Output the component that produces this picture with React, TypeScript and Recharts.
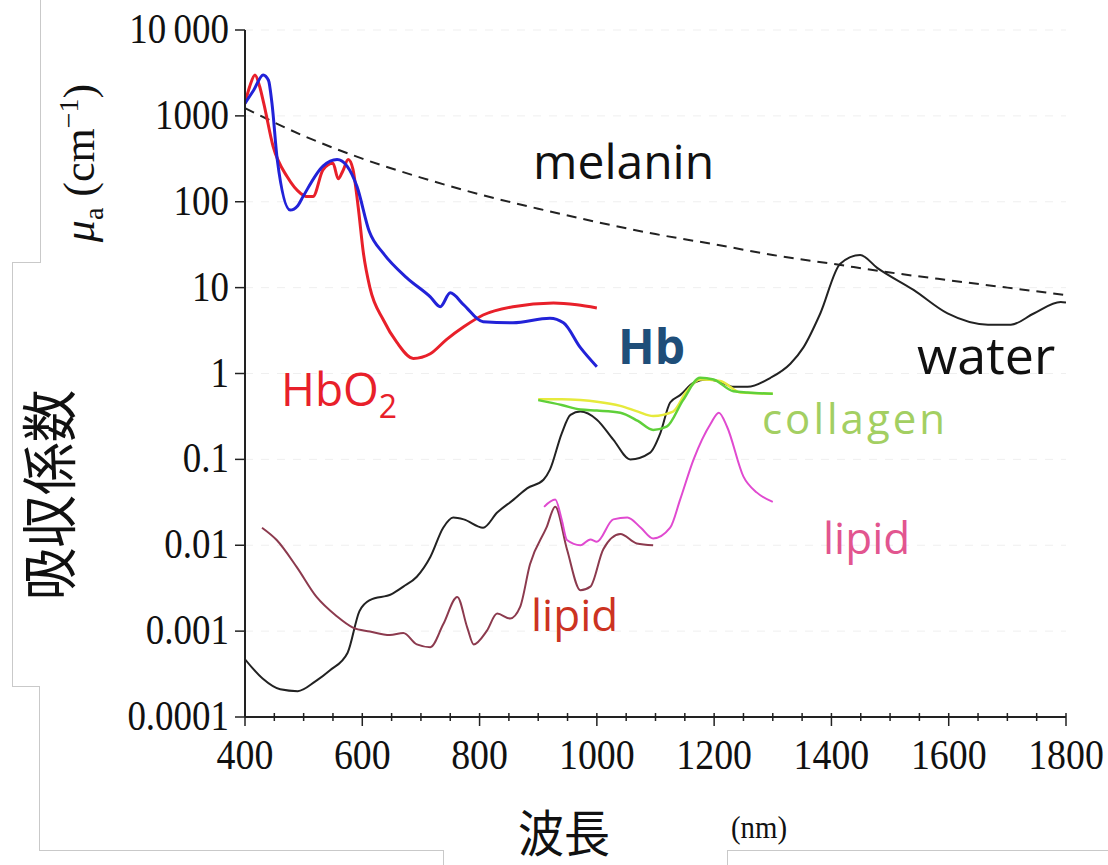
import React from "react"
import { LineChart, Line, XAxis, YAxis, CartesianGrid } from "recharts"

// wavelength (nm) / absorption coefficient (cm^-1)
const waterNm = [400, 430, 460, 490, 520, 545, 575, 595, 613, 650, 670, 693, 716, 738, 755, 773, 806, 830, 858, 881, 909, 920, 940, 955, 972, 1000, 1028, 1057, 1091, 1108, 1125, 1142, 1165, 1188, 1210, 1233, 1257, 1296, 1330, 1352, 1381, 1415, 1449, 1478, 1540, 1598, 1667, 1706, 1745, 1791, 1800]
const waterMu = [0.00047, 0.00028, 0.00021, 0.0002, 0.00026, 0.00035, 0.00056, 0.0017, 0.0023, 0.0027, 0.0033, 0.0043, 0.0073, 0.016, 0.021, 0.02, 0.016, 0.024, 0.034, 0.046, 0.058, 0.076, 0.2, 0.33, 0.36, 0.29, 0.17, 0.1, 0.12, 0.2, 0.46, 0.56, 0.78, 0.85, 0.8, 0.7, 0.7, 0.89, 1.3, 2.0, 5, 19, 24, 17, 9.4, 5, 3.7, 3.7, 5, 6.8, 6.7]

const melaninNm = [400, 500, 600, 700, 800, 900, 1000, 1100, 1200, 1300, 1400, 1500, 1600, 1700, 1800]
const melaninMu = [1230, 586, 318, 191, 122, 83, 58, 42, 32, 24, 19, 15, 12.2, 10, 8.2]

const hbo2Nm = [400, 408, 417, 425, 432, 448, 472, 495, 506, 516, 533, 550, 559, 567, 576, 584, 593, 602, 613, 636, 659, 687, 716, 744, 773, 806, 857, 926, 966, 1000]
const hbo2Mu = [1400, 2200, 3000, 2200, 1400, 440, 195, 125, 115, 115, 235, 280, 185, 230, 310, 240, 87, 25, 10, 4.2, 2.3, 1.5, 1.7, 2.5, 3.5, 4.8, 6.0, 6.6, 6.3, 5.8]

const hbNm = [400, 415, 431, 440, 446, 455, 477, 490, 499, 533, 557, 574, 591, 612, 636, 676, 716, 733, 750, 773, 806, 857, 920, 943, 972, 1000]
const hbMu = [1400, 2000, 3000, 2600, 1400, 310, 80, 90, 115, 260, 310, 260, 150, 45, 25, 13, 7.8, 6.0, 8.7, 6.3, 4.0, 3.9, 4.4, 3.9, 2.0, 1.2]

const collagenGreenNm = [900, 940, 972, 1000, 1040, 1070, 1096, 1119, 1147, 1176, 1199, 1233, 1257, 1300]
const collagenGreenMu = [0.49, 0.43, 0.38, 0.37, 0.35, 0.28, 0.22, 0.24, 0.49, 0.89, 0.85, 0.62, 0.6, 0.58]
const collagenYellowNm = [900, 940, 972, 1000, 1040, 1070, 1096, 1130, 1153, 1176, 1210, 1245, 1300]
const collagenYellowMu = [0.5, 0.5, 0.49, 0.47, 0.42, 0.36, 0.32, 0.36, 0.62, 0.85, 0.82, 0.6, 0.58]

const lipidPinkNm = [910, 929, 940, 949, 972, 989, 1000, 1028, 1052, 1075, 1096, 1125, 1142, 1165, 1194, 1208, 1222, 1250, 1273, 1300]
const lipidPinkMu = [0.028, 0.034, 0.02, 0.0115, 0.01, 0.0117, 0.011, 0.02, 0.021, 0.016, 0.012, 0.016, 0.034, 0.1, 0.26, 0.35, 0.24, 0.063, 0.041, 0.032]

const lipidDarkNm = [429, 454, 488, 522, 556, 584, 613, 647, 670, 693, 716, 738, 762, 779, 790, 812, 830, 852, 869, 886, 914, 929, 949, 972, 989, 1011, 1040, 1068, 1096]
const lipidDarkMu = [0.016, 0.0115, 0.0056, 0.0025, 0.0015, 0.0011, 0.00099, 0.0009, 0.00095, 0.0007, 0.00065, 0.0012, 0.0025, 0.0011, 0.0007, 0.001, 0.0016, 0.0014, 0.0019, 0.006, 0.016, 0.028, 0.009, 0.003, 0.0033, 0.009, 0.0135, 0.0105, 0.01]

const xMajorTicks = [400, 600, 800, 1000, 1200, 1400, 1600, 1800]
const yTicks = [0.0001, 0.001, 0.01, 0.1, 1, 10, 100, 1000, 10000]

const toPoints = (nm: number[], mu: number[]) => nm.map((x, i) => ({ x, y: mu[i] }))

// minor ticks every 50 nm between the labelled ones
const xTicks: number[] = []
for (let v = 400; v <= 1800; v += 50) xTicks.push(v)

const serif = '"Liberation Serif", "Times New Roman", serif'
const sans = '"Open Sans", "Noto Sans", sans-serif'

const XTick = (props: any) => {
    const { x, y, payload } = props
    const major = xMajorTicks.includes(payload.value)
    return (
        <g>
            <line x1={x} x2={x} y1={y - 4} y2={y + (major ? 9 : 4)} stroke="#222" strokeWidth={1.5} />
            {major && (
                <text transform={`translate(${x},${y + 52}) scale(0.88,1)`} textAnchor="middle" fontFamily={serif} fontSize={43} fill="#111">
                    {payload.value}
                </text>
            )}
        </g>
    )
}

const YTick = (props: any) => {
    const { x, y, payload } = props
    const v = payload.value
    return (
        <text transform={`translate(${x},${y + 13}) scale(0.88,1)`} textAnchor="end" fontFamily={serif} fontSize={42} fill="#111">
            {v === 10000 ? "10\u2009000" : String(v)}
        </text>
    )
}

const label = (style: React.CSSProperties, children: React.ReactNode) => (
    <div style={{ position: "absolute", whiteSpace: "nowrap", lineHeight: 1, ...style }}>{children}</div>
)

const frame = (left: number, top: number, width: number, height: number) => (
    <div style={{ position: "absolute", left, top, width, height, background: "#c9c9c9" }} />
)

export default function App() {
    return (
        <div style={{ position: "absolute", left: 0, top: 0, width: 1108, height: 865, background: "#fff", overflow: "hidden" }}>
            {frame(40, 0, 1, 262)}
            {frame(12, 262, 29, 1)}
            {frame(12, 262, 1, 425)}
            {frame(12, 686, 28, 1)}
            {frame(39, 686, 1, 165)}
            {frame(39, 850, 405, 1)}
            {frame(443, 850, 1, 15)}
            {frame(727, 850, 381, 1)}
            {frame(727, 850, 1, 15)}

            <LineChart
                width={1108}
                height={865}
                margin={{ top: 30, right: 42, left: 95, bottom: 88 }}
                style={{ position: "absolute", left: 0, top: 0 }}
            >
                <CartesianGrid vertical={false} stroke="#efefef" strokeDasharray="8 8" />
                <XAxis
                    type="number"
                    dataKey="x"
                    domain={[400, 1800]}
                    ticks={xTicks}
                    interval={0}
                    height={60}
                    axisLine={{ stroke: "#222", strokeWidth: 2 }}
                    tickLine={false}
                    tickSize={0}
                    tickMargin={0}
                    tick={<XTick />}
                    allowDataOverflow
                />
                <YAxis
                    type="number"
                    scale="log"
                    domain={[0.0001, 10000]}
                    ticks={yTicks}
                    interval={0}
                    width={150}
                    axisLine={{ stroke: "#222", strokeWidth: 2 }}
                    tickLine={{ stroke: "#222", strokeWidth: 1.5 }}
                    tickSize={10}
                    tickMargin={6}
                    tick={<YTick />}
                    allowDataOverflow
                />
                <Line data={toPoints(melaninNm, melaninMu)} dataKey="y" type="monotone" stroke="#222" strokeWidth={2} strokeDasharray="10 7" dot={false} isAnimationActive={false} />
                <Line data={toPoints(waterNm, waterMu)} dataKey="y" type="monotone" stroke="#222" strokeWidth={2} dot={false} isAnimationActive={false} />
                <Line data={toPoints(lipidDarkNm, lipidDarkMu)} dataKey="y" type="monotone" stroke="#8c3a4e" strokeWidth={2} dot={false} isAnimationActive={false} />
                <Line data={toPoints(lipidPinkNm, lipidPinkMu)} dataKey="y" type="monotone" stroke="#e04ad0" strokeWidth={2} dot={false} isAnimationActive={false} />
                <Line data={toPoints(collagenYellowNm, collagenYellowMu)} dataKey="y" type="monotone" stroke="#e6ea3c" strokeWidth={2.5} dot={false} isAnimationActive={false} />
                <Line data={toPoints(collagenGreenNm, collagenGreenMu)} dataKey="y" type="monotone" stroke="#5fd03a" strokeWidth={2.5} dot={false} isAnimationActive={false} />
                <Line data={toPoints(hbo2Nm, hbo2Mu)} dataKey="y" type="monotone" stroke="#e8202a" strokeWidth={3} dot={false} isAnimationActive={false} />
                <Line data={toPoints(hbNm, hbMu)} dataKey="y" type="monotone" stroke="#2222d8" strokeWidth={3} dot={false} isAnimationActive={false} />
            </LineChart>

            {label({ left: 533, top: 137, fontFamily: sans, fontSize: 48, color: "#111" }, "melanin")}
            {label({ left: 281, top: 365, fontFamily: sans, fontSize: 46, color: "#e8202a" }, <span>HbO<span style={{ fontSize: 32, position: "relative", top: 12 }}>2</span></span>)}
            {label({ left: 618, top: 322, fontFamily: sans, fontSize: 48, fontWeight: 700, color: "#1f4e79" }, "Hb")}
            {label({ left: 917, top: 328, fontFamily: sans, fontSize: 52, color: "#111" }, "water")}
            {label({ left: 762, top: 397, fontFamily: sans, fontSize: 42, letterSpacing: 3, color: "#a3cf62" }, "collagen")}
            {label({ left: 823, top: 515, fontFamily: sans, fontSize: 44, color: "#e2558f" }, "lipid")}
            {label({ left: 531, top: 592, fontFamily: sans, fontSize: 44, color: "#cc3322" }, "lipid")}

            {label({ left: 80, top: 163, fontFamily: serif, fontSize: 44, color: "#111", transform: "translate(-50%, -50%) rotate(-90deg)" },
                <span><i>μ</i><span style={{ fontSize: 28, position: "relative", top: 9 }}>a</span> (cm<span style={{ fontSize: 28, position: "relative", top: -16 }}>−1</span>)</span>)}
            {label({ left: 46, top: 495, fontFamily: '"Noto Sans CJK JP", sans-serif', fontSize: 56, color: "#111", transform: "translate(-50%, -50%) rotate(-90deg) scaleX(0.94)" }, "吸収係数")}
            {label({ left: 518, top: 805, fontFamily: '"Noto Sans CJK JP", sans-serif', fontSize: 50, color: "#111", transform: "scaleX(0.92)", transformOrigin: "left top" }, "波長")}
            {label({ left: 731, top: 811, fontFamily: serif, fontSize: 32, color: "#111", transform: "scaleX(0.9)", transformOrigin: "left top" }, "(nm)")}
        </div>
    )
}
